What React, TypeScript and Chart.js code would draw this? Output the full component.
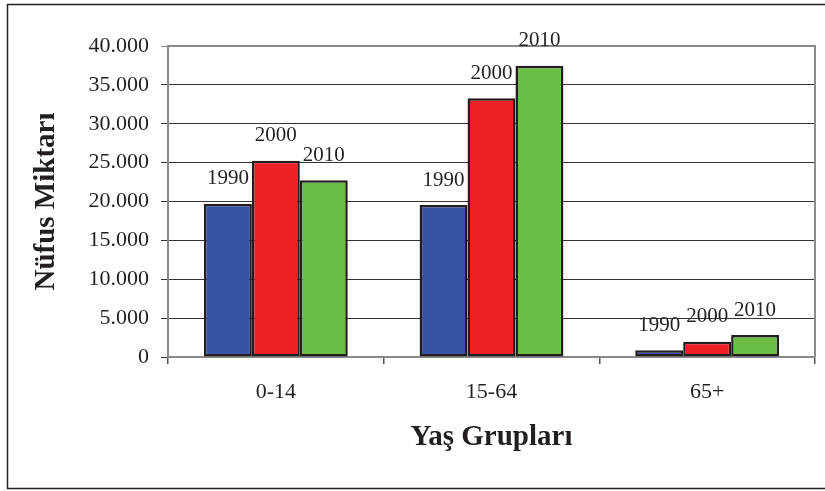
import React, { useEffect, useRef } from "react";
import { Chart, registerables } from "chart.js";

Chart.register(...registerables);

const categories = ["0-14", "15-64", "65+"];
const seriesNames = ["1990", "2000", "2010"];
const values1990 = [19700, 19550, 860];
const values2000 = [25250, 33270, 1970];
const values2010 = [22730, 37470, 2830];
const yTickLabels = ["0", "5.000", "10.000", "15.000", "20.000", "25.000", "30.000", "35.000", "40.000"];
const xTitle = "Yaş Grupları";
const yTitle = "Nüfus Miktarı";

const colors = ["#3953A4", "#ED2024", "#6BBD45"];
const serif = "'Liberation Serif', 'Times New Roman', serif";

export default function App() {
  const ref = useRef<HTMLCanvasElement | null>(null);

  useEffect(() => {
    document.body.style.margin = "0";
    const canvas = ref.current;
    if (!canvas) return;

    const frame = {
      id: "frame",
      beforeDatasetsDraw(chart: any) {
        const { ctx, chartArea } = chart;
        ctx.save();
        ctx.strokeStyle = "#8a8a8a";
        ctx.lineWidth = 2;
        ctx.beginPath();
        ctx.moveTo(chartArea.left, chartArea.top);
        ctx.lineTo(chartArea.right, chartArea.top);
        ctx.lineTo(chartArea.right, chartArea.bottom);
        ctx.stroke();
        ctx.restore();
      },
      afterDraw(chart: any) {
        const { ctx } = chart;
        ctx.save();
        ctx.strokeStyle = "#222";
        ctx.lineWidth = 1.5;
        ctx.strokeRect(7.5, 4.5, 840, 484);
        ctx.restore();
      },
    };

    const barLabels = {
      id: "barLabels",
      afterDatasetsDraw(chart: any) {
        const { ctx } = chart;
        ctx.save();
        ctx.font = `21px ${serif}`;
        ctx.fillStyle = "#231F20";
        ctx.textAlign = "center";
        ctx.textBaseline = "middle";
        chart.data.datasets.forEach((ds: any, di: number) => {
          const meta = chart.getDatasetMeta(di);
          meta.data.forEach((el: any) => {
            ctx.fillText(ds.label, el.x, el.y - 25);
          });
        });
        ctx.restore();
      },
    };

    const chart = new Chart(canvas, {
      type: "bar",
      data: {
        labels: categories,
        datasets: [values1990, values2000, values2010].map((vals, i) => ({
          label: seriesNames[i],
          data: vals,
          backgroundColor: colors[i],
          borderColor: "#231F20",
          borderWidth: 2.5,
          borderSkipped: false,
          categoryPercentage: 0.667,
          barPercentage: 1,
        })),
      },
      options: {
        responsive: false,
        animation: false,
        layout: { padding: { left: 0, top: 46, right: 10, bottom: 0 } },
        plugins: {
          legend: { display: false },
          tooltip: { enabled: false },
        },
        scales: {
          x: {
            grid: {
              display: true,
              drawOnChartArea: false,
              drawTicks: true,
              offset: true,
              tickLength: 7,
              color: "#555",
              lineWidth: 1.5,
            },
            border: { display: true, color: "#8a8a8a", width: 2 },
            ticks: {
              color: "#231F20",
              font: { family: serif, size: 22 },
              padding: 15,
              maxRotation: 0,
            },
            title: {
              display: true,
              text: xTitle,
              color: "#231F20",
              font: { family: serif, size: 29, weight: "bold" },
              padding: { top: 0, bottom: 36 },
            },
            afterFit(scale: any) {
              scale.height = 134;
            },
          },
          y: {
            min: 0,
            max: 40000,
            ticks: {
              stepSize: 5000,
              color: "#231F20",
              font: { family: serif, size: 22 },
              padding: 12,
              callback: (_v: any, i: number) => yTickLabels[i],
            },
            grid: {
              color: (c: any) => (c.tick && c.tick.value === 40000 ? "#8a8a8a" : "#333"),
              lineWidth: 1,
              tickLength: 7,
              drawTicks: true,
            },
            border: { display: true, color: "#8a8a8a", width: 2 },
            title: {
              display: true,
              text: yTitle,
              color: "#231F20",
              font: { family: serif, size: 29, weight: "bold" },
              padding: { top: 29, bottom: 0 },
            },
            afterFit(scale: any) {
              scale.width = 168;
            },
          },
        },
      },
      plugins: [frame, barLabels],
    });

    return () => chart.destroy();
  }, []);

  return (
    <div style={{ width: 825, height: 491, background: "#fff" }}>
      <canvas ref={ref} width={825} height={491} />
    </div>
  );
}
